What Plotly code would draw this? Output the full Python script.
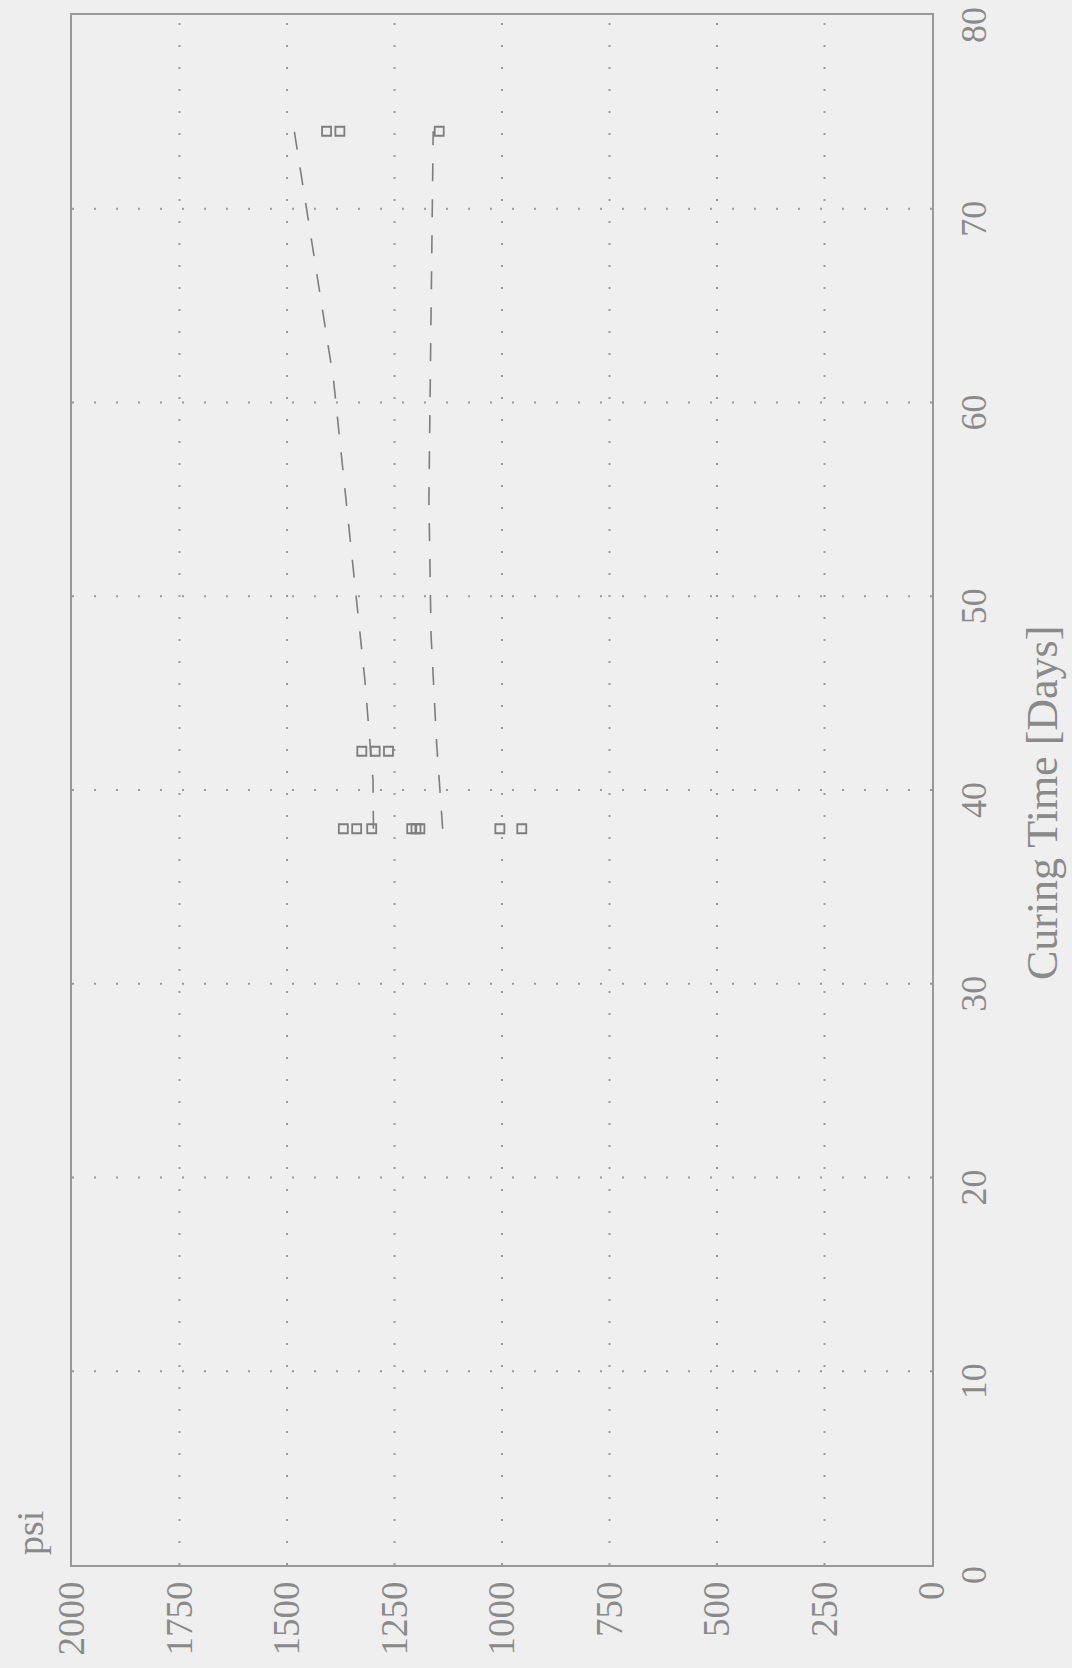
import plotly.graph_objects as go

# Data read from the (rotated) reference chart
days_38 = [38, 38, 38, 38, 38, 38, 38, 38]
psi_38 = [1369, 1338, 1303, 1210, 1200, 1191, 1005, 954]
days_42 = [42, 42, 42]
psi_42 = [1326, 1295, 1264]
days_74 = [74, 74, 74]
psi_74 = [1408, 1377, 1146]

upper_days = [38, 40.5, 45.7, 61.2, 74]
upper_psi = [1299, 1300, 1319, 1392, 1483]
lower_days = [38, 42.4, 48, 55, 74]
lower_psi = [1138, 1152, 1165, 1170, 1160]

psi_ticks = [0, 250, 500, 750, 1000, 1250, 1500, 1750, 2000]
day_ticks = [0, 10, 20, 30, 40, 50, 60, 70, 80]

GREY = "#7e7e7e"
TXT = "#8a8a8a"
BG = "#efefef"
FONT = "Liberation Serif"

fig = go.Figure()

pts_days = days_38 + days_42 + days_74
pts_psi = psi_38 + psi_42 + psi_74
fig.add_trace(go.Scatter(
    x=pts_psi, y=pts_days, mode="markers",
    marker=dict(symbol="square-open", size=9, color=GREY, line=dict(width=1.8, color=GREY)),
    showlegend=False, hoverinfo="skip"))

fig.add_trace(go.Scatter(
    x=upper_psi, y=upper_days, mode="lines",
    line=dict(color=GREY, width=1.6, dash="18px,18px"),
    showlegend=False, hoverinfo="skip"))
fig.add_trace(go.Scatter(
    x=lower_psi, y=lower_days, mode="lines",
    line=dict(color=GREY, width=1.6, dash="18px,18px"),
    showlegend=False, hoverinfo="skip"))

# dotted grid lines drawn as shapes (interior only)
for p in psi_ticks[1:-1]:
    fig.add_shape(type="line", xref="x", yref="y", x0=p, x1=p, y0=0, y1=80,
                  line=dict(color="#9a9a9a", width=2, dash="2px,20px"), layer="below")
for d in day_ticks[1:-1]:
    fig.add_shape(type="line", xref="x", yref="y", x0=0, x1=2000, y0=d, y1=d,
                  line=dict(color="#9a9a9a", width=2, dash="2px,20px"), layer="below")

fig.update_xaxes(
    range=[2000, 0], tickvals=psi_ticks, ticktext=[str(v) for v in psi_ticks],
    tickangle=-90, showgrid=False, zeroline=False,
    showline=True, mirror=True, linecolor="#999999", linewidth=1.6,
    ticks="", tickfont=dict(family=FONT, size=37, color=TXT),
    ticklabelstandoff=0, ticklabeloverflow="allow", automargin=False)
fig.update_yaxes(
    range=[0, 80], tickvals=day_ticks, showticklabels=False,
    side="right", showgrid=False, zeroline=False,
    showline=True, mirror=True, linecolor="#999999", linewidth=1.6,
    ticks="", automargin=False)

# day tick labels (rotated, slightly below their tick as in the scan)
for d in day_ticks:
    fig.add_annotation(text=str(d), xref="paper", yref="y", x=1.0488, y=d,
                       yshift=-10, textangle=-90, showarrow=False,
                       font=dict(family=FONT, size=36, color=TXT),
                       xanchor="center", yanchor="middle")

fig.add_annotation(text="Curing Time [Days]", xref="paper", yref="paper",
                   x=1.128, y=0.4916, textangle=-90, showarrow=False,
                   font=dict(family=FONT, size=44, color=TXT),
                   xanchor="center", yanchor="middle")
fig.add_annotation(text="psi", xref="paper", yref="paper",
                   x=-0.049, y=0.005, textangle=-90, showarrow=False,
                   font=dict(family=FONT, size=38, color=TXT),
                   xanchor="center", yanchor="bottom")

fig.update_layout(
    width=1072, height=1668,
    margin=dict(l=72, r=140, t=15, b=103, autoexpand=False),
    paper_bgcolor=BG, plot_bgcolor=BG,
    showlegend=False)

fig.write_html("out.html")
